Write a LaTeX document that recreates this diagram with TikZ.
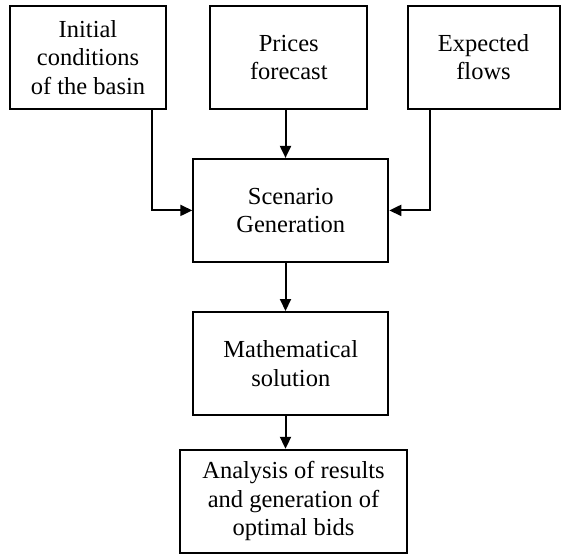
\documentclass[tikz,border=0pt]{standalone}
\usepackage{fontspec}
\setmainfont{Liberation Serif}
\usetikzlibrary{arrows.meta}
\begin{document}
\begin{tikzpicture}[x=1pt,y=-1pt,
  box/.style={draw,line width=2pt,inner sep=0pt,align=center,
    font=\fontsize{24.5}{28.5}\selectfont,minimum height=103pt},
  conn/.style={line width=2pt,-{Triangle[length=12pt,width=11pt]}}]
\useasboundingbox (0,0) rectangle (561,555);
\node[box,minimum width=156pt] (init) at (88,57.3) {Initial\\conditions\\of the basin};
\node[box,minimum width=157pt] (price) at (288.8,57.3) {Prices\\forecast};
\node[box,minimum width=152pt] (flow) at (483.5,57.3) {Expected\\flows};
\node[box,minimum width=195pt] (scen) at (290.8,210.4) {Scenario\\Generation};
\node[box,minimum width=195pt] (math) at (290.8,363.5) {Mathematical\\solution};
\node[box,minimum width=227pt] (anal) at (293.5,501.3) {Analysis of results\\and generation of\\optimal bids};
\coordinate (lx) at (152,0);
\coordinate (rx) at (430,0);
\coordinate (cx) at (285.5,0);
\draw[conn] (init.south -| lx) |- (scen.west);
\draw[conn] (flow.south -| rx) |- (scen.east);
\draw[conn] (price.south -| cx) -- (scen.north -| cx);
\draw[conn] (scen.south -| cx) -- (math.north -| cx);
\draw[conn] (math.south -| cx) -- (anal.north -| cx);
\end{tikzpicture}
\end{document}
